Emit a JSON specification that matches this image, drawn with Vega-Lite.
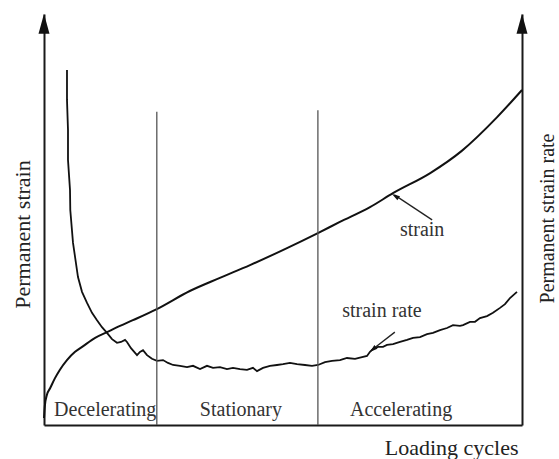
{
  "$schema": "https://vega.github.io/schema/vega-lite/v6.json",
  "autosize": "none",
  "width": 478,
  "height": 411,
  "padding": {"left": 44, "top": 14, "right": 37, "bottom": 34},
  "background": "white",
  "config": {
    "view": {"stroke": null},
    "axis": {"ticks": false, "labels": false, "grid": false, "domain": true, "domainColor": "#1a1a1a", "domainWidth": 2, "titleFontWeight": "normal", "titleColor": "#222"}
  },
  "datasets": {
    "strain": [
      {"x": 0, "y": 1.7}, {"x": 0.2, "y": 4.9}, {"x": 0.6, "y": 7.3}, {"x": 1.3, "y": 9.0}, {"x": 2.3, "y": 11.4},
      {"x": 3.3, "y": 13.4}, {"x": 4.8, "y": 15.8}, {"x": 6.5, "y": 17.8}, {"x": 8.2, "y": 19.2}, {"x": 10.7, "y": 21.2},
      {"x": 13.2, "y": 22.6}, {"x": 15.9, "y": 24.1}, {"x": 18.6, "y": 25.5}, {"x": 23.6, "y": 28.2}, {"x": 30.5, "y": 32.6},
      {"x": 36.8, "y": 35.8}, {"x": 43.1, "y": 38.9}, {"x": 50.4, "y": 42.8}, {"x": 57.3, "y": 46.7}, {"x": 61.9, "y": 49.4},
      {"x": 68.2, "y": 53.0}, {"x": 73.0, "y": 56.4}, {"x": 80.8, "y": 61.3}, {"x": 87.4, "y": 66.7}, {"x": 94.8, "y": 74.9},
      {"x": 100, "y": 81.5}
    ],
    "rate": [
      {"x": 4.81, "y": 86.4}, {"x": 4.81, "y": 79.1}, {"x": 5.02, "y": 71.8}, {"x": 5.02, "y": 64.5}, {"x": 5.44, "y": 57.2},
      {"x": 5.5, "y": 52.3}, {"x": 6.07, "y": 44.3}, {"x": 7.11, "y": 36.0}, {"x": 7.95, "y": 32.4}, {"x": 9.0, "y": 29.7},
      {"x": 10.04, "y": 27.3}, {"x": 11.09, "y": 25.5}, {"x": 12.13, "y": 23.8}, {"x": 13.18, "y": 22.4}, {"x": 14.23, "y": 20.9},
      {"x": 15.27, "y": 20.0}, {"x": 16.11, "y": 20.2}, {"x": 16.95, "y": 20.7}, {"x": 17.36, "y": 20.2}, {"x": 18.2, "y": 18.7},
      {"x": 19.46, "y": 17.0}, {"x": 20.08, "y": 17.8}, {"x": 20.71, "y": 18.2}, {"x": 21.55, "y": 17.0}, {"x": 22.59, "y": 16.1},
      {"x": 23.64, "y": 15.6}, {"x": 24.9, "y": 15.8}, {"x": 25.94, "y": 15.1}, {"x": 27.0, "y": 14.6}, {"x": 28.45, "y": 14.4},
      {"x": 29.92, "y": 14.1}, {"x": 31.17, "y": 14.4}, {"x": 32.64, "y": 13.6}, {"x": 34.1, "y": 14.4}, {"x": 35.36, "y": 13.9},
      {"x": 36.82, "y": 14.1}, {"x": 38.28, "y": 13.6}, {"x": 39.54, "y": 13.9}, {"x": 41.0, "y": 13.6}, {"x": 42.47, "y": 13.4},
      {"x": 43.72, "y": 13.9}, {"x": 44.56, "y": 13.1}, {"x": 45.82, "y": 13.9}, {"x": 47.28, "y": 14.4}, {"x": 48.74, "y": 14.6},
      {"x": 50.0, "y": 14.8}, {"x": 51.46, "y": 15.1}, {"x": 52.93, "y": 14.8}, {"x": 54.6, "y": 14.6}, {"x": 56.07, "y": 14.4},
      {"x": 57.32, "y": 14.6}, {"x": 58.79, "y": 15.3}, {"x": 60.25, "y": 15.6}, {"x": 61.92, "y": 15.8}, {"x": 63.39, "y": 16.3},
      {"x": 65.06, "y": 16.1}, {"x": 66.53, "y": 16.5}, {"x": 67.57, "y": 16.8}, {"x": 68.2, "y": 17.8}, {"x": 68.83, "y": 18.5},
      {"x": 69.87, "y": 19.0}, {"x": 70.92, "y": 19.0}, {"x": 71.76, "y": 19.5}, {"x": 73.01, "y": 19.7}, {"x": 74.48, "y": 20.2},
      {"x": 75.94, "y": 20.7}, {"x": 77.2, "y": 21.2}, {"x": 78.66, "y": 21.4}, {"x": 80.13, "y": 22.1}, {"x": 81.38, "y": 22.4},
      {"x": 82.85, "y": 23.1}, {"x": 84.31, "y": 23.6}, {"x": 85.56, "y": 24.3}, {"x": 87.03, "y": 24.1}, {"x": 87.66, "y": 24.3},
      {"x": 89.12, "y": 25.1}, {"x": 90.17, "y": 25.1}, {"x": 91.21, "y": 26.0}, {"x": 92.68, "y": 26.5}, {"x": 93.93, "y": 27.3},
      {"x": 95.4, "y": 28.5}, {"x": 96.44, "y": 29.4}, {"x": 97.49, "y": 30.9}, {"x": 98.95, "y": 32.4}
    ],
    "dividers": [{"x": 23.6, "y": 76.2}, {"x": 57.3, "y": 76.6}],
    "axisHeads": [{"x": 0, "y": 97.6}, {"x": 100, "y": 97.6}],
    "regions": [
      {"x": 12.8, "y": 2.2, "label": "Decelerating"},
      {"x": 41.2, "y": 2.2, "label": "Stationary"},
      {"x": 74.7, "y": 2.2, "label": "Accelerating"}
    ],
    "annotations": [
      {"x": 79.1, "y": 46.0, "label": "strain"},
      {"x": 70.7, "y": 26.3, "label": "strain rate"}
    ],
    "pointers": [
      {"x": 81.2, "y": 49.9, "x2": 73.3, "y2": 56.0},
      {"x": 73.4, "y": 22.6, "x2": 68.5, "y2": 18.2}
    ],
    "head1": [{"x": 73.5, "y": 55.7}],
    "head2": [{"x": 68.8, "y": 18.4}]
  },
  "encoding": {
    "x": {"field": "x", "type": "quantitative", "scale": {"domain": [0, 100], "nice": false, "zero": false},
          "axis": {"title": "Loading cycles", "orient": "bottom", "titleFont": "Liberation Serif", "titleFontSize": 22, "titleAnchor": "end", "titleAlign": "right", "titleX": 474, "titleY": 29, "titleBaseline": "alphabetic"}}
  },
  "layer": [
    {
      "data": {"name": "strain"},
      "mark": {"type": "line", "color": "#111", "strokeWidth": 2, "interpolate": "monotone"},
      "encoding": {
        "y": {"field": "y", "type": "quantitative", "scale": {"domain": [0, 100], "nice": false, "zero": false},
              "axis": {"orient": "left", "title": "Permanent strain", "titleFont": "Liberation Serif", "titleFontSize": 22, "titleAngle": -90, "titleAlign": "center", "titleBaseline": "alphabetic", "titleX": -15, "titleY": 220}}
      }
    },
    {
      "data": {"name": "rate"},
      "mark": {"type": "line", "color": "#111", "strokeWidth": 1.8},
      "encoding": {
        "y": {"field": "y", "type": "quantitative", "scale": {"domain": [0, 100], "nice": false, "zero": false},
              "axis": {"orient": "right", "title": "Permanent strain rate", "titleFont": "Liberation Serif", "titleFontSize": 20, "titleAngle": -90, "titleAlign": "center", "titleBaseline": "alphabetic", "titleX": 31, "titleY": 204}}
      }
    },
    {
      "data": {"name": "dividers"},
      "mark": {"type": "rule", "color": "#555", "strokeWidth": 1.3},
      "encoding": {
        "y": {"field": "y", "type": "quantitative", "scale": {"domain": [0, 100]}, "axis": null},
        "y2": {"datum": 0}
      }
    },
    {
      "data": {"name": "axisHeads"},
      "mark": {"type": "point", "shape": "M0,-1L-0.55,1L0.55,1Z", "filled": true, "color": "#111", "size": 400, "opacity": 1},
      "encoding": {
        "y": {"field": "y", "type": "quantitative", "scale": {"domain": [0, 100]}, "axis": null}
      }
    },
    {
      "data": {"name": "regions"},
      "mark": {"type": "text", "font": "Liberation Serif", "fontSize": 20, "color": "#333", "align": "center", "baseline": "alphabetic"},
      "encoding": {
        "y": {"field": "y", "type": "quantitative", "scale": {"domain": [0, 100]}, "axis": null},
        "text": {"field": "label"}
      }
    },
    {
      "data": {"name": "annotations"},
      "mark": {"type": "text", "font": "Liberation Serif", "fontSize": 20, "color": "#333", "align": "center", "baseline": "alphabetic"},
      "encoding": {
        "y": {"field": "y", "type": "quantitative", "scale": {"domain": [0, 100]}, "axis": null},
        "text": {"field": "label"}
      }
    },
    {
      "data": {"name": "pointers"},
      "mark": {"type": "rule", "color": "#222", "strokeWidth": 1.3},
      "encoding": {
        "y": {"field": "y", "type": "quantitative", "scale": {"domain": [0, 100]}, "axis": null},
        "x2": {"field": "x2"},
        "y2": {"field": "y2"}
      }
    },
    {
      "data": {"name": "head1"},
      "mark": {"type": "point", "shape": "M0,-1L-0.6,1L0.6,1Z", "filled": true, "color": "#111", "size": 64, "opacity": 1, "angle": 303},
      "encoding": {
        "y": {"field": "y", "type": "quantitative", "scale": {"domain": [0, 100]}, "axis": null}
      }
    },
    {
      "data": {"name": "head2"},
      "mark": {"type": "point", "shape": "M0,-1L-0.6,1L0.6,1Z", "filled": true, "color": "#111", "size": 64, "opacity": 1, "angle": 230},
      "encoding": {
        "y": {"field": "y", "type": "quantitative", "scale": {"domain": [0, 100]}, "axis": null}
      }
    }
  ],
  "resolve": {"axis": {"y": "independent"}}
}
